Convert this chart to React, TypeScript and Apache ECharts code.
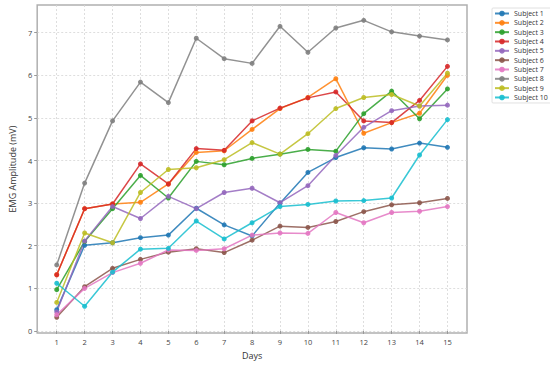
import React, { useEffect, useRef } from "react";
import * as echarts from "echarts";

const days = [1, 2, 3, 4, 5, 6, 7, 8, 9, 10, 11, 12, 13, 14, 15];
const yTicks = [0, 1, 2, 3, 4, 5, 6, 7];
const subjectNames = [
  "Subject 1", "Subject 2", "Subject 3", "Subject 4", "Subject 5",
  "Subject 6", "Subject 7", "Subject 8", "Subject 9", "Subject 10",
];
const colors = [
  "#1f77b4", "#ff7f0e", "#2ca02c", "#d62728", "#9467bd",
  "#8c564b", "#e377c2", "#7f7f7f", "#bcbd22", "#17becf",
];

const s1 = [0.5, 2.01, 2.07, 2.19, 2.25, 2.88, 2.49, 2.23, 3.0, 3.72, 4.07, 4.3, 4.27, 4.41, 4.31];
const s2 = [1.32, 2.87, 2.98, 3.02, 3.45, 4.19, 4.23, 4.73, 5.22, 5.48, 5.92, 4.64, 4.89, 5.11, 6.0];
const s3 = [0.97, 2.1, 2.87, 3.65, 3.12, 3.98, 3.9, 4.05, 4.15, 4.26, 4.22, 5.1, 5.63, 4.98, 5.68];
const s4 = [1.32, 2.87, 2.98, 3.92, 3.45, 4.28, 4.24, 4.93, 5.23, 5.47, 5.61, 4.93, 4.89, 5.41, 6.21];
const s5 = [0.45, 2.11, 2.92, 2.64, 3.16, 2.87, 3.25, 3.35, 3.01, 3.41, 4.12, 4.78, 5.17, 5.28, 5.3];
const s6 = [0.32, 1.04, 1.47, 1.68, 1.85, 1.93, 1.84, 2.13, 2.46, 2.43, 2.57, 2.8, 2.96, 3.01, 3.11];
const s7 = [0.38, 1.0, 1.37, 1.59, 1.9, 1.89, 1.93, 2.25, 2.3, 2.29, 2.78, 2.54, 2.78, 2.81, 2.92];
const s8 = [1.55, 3.47, 4.93, 5.84, 5.36, 6.87, 6.39, 6.28, 7.15, 6.54, 7.11, 7.29, 7.02, 6.92, 6.83];
const s9 = [0.67, 2.3, 2.07, 3.25, 3.79, 3.83, 4.02, 4.42, 4.15, 4.63, 5.22, 5.48, 5.55, 5.28, 6.05];
const s10 = [1.12, 0.58, 1.38, 1.92, 1.94, 2.58, 2.16, 2.54, 2.92, 2.97, 3.05, 3.06, 3.12, 4.13, 4.96];

const allSeries = [s1, s2, s3, s4, s5, s6, s7, s8, s9, s10];

const FONT = "'Open Sans', 'Noto Sans', sans-serif";

export default function App() {
  const ref = useRef<HTMLDivElement>(null);
  useEffect(() => {
    if (!ref.current) return;
    const chart = echarts.init(ref.current, undefined, { renderer: "svg" });
    const series = allSeries.map((vals, i) => ({
      name: subjectNames[i],
      type: "line",
      data: vals.map((v, j) => [days[j], v]),
      symbol: "circle",
      symbolSize: 5,
      color: colors[i],
      lineStyle: { width: 1.5, opacity: 0.85 },
      itemStyle: { opacity: 0.9 },
      emphasis: { disabled: true },
    }));
    chart.setOption({
      animation: false,
      color: colors,
      grid: {
        left: 23,
        right: 83,
        top: 5,
        bottom: 26,
        show: true,
        borderColor: "#b0b0b0",
        borderWidth: 1.5,
        backgroundColor: "#ffffff",
      },
      legend: {
        data: subjectNames,
        orient: "vertical",
        left: 492,
        top: 8,
        itemWidth: 14,
        itemHeight: 7,
        itemGap: 2.33,
        padding: [2, 3, 2, 2],
        borderColor: "#d8d8d8",
        borderWidth: 0.8,
        borderRadius: 1,
        textStyle: { fontSize: 7, lineHeight: 7, color: "#333", fontFamily: FONT },
      },
      xAxis: {
        type: "value",
        min: 0.3,
        max: 15.7,
        name: "Days",
        nameLocation: "middle",
        nameGap: 15,
        nameTextStyle: { fontSize: 9, color: "#333", fontFamily: FONT },
        axisLine: { show: false },
        axisTick: { show: true, length: 3, customValues: days, lineStyle: { color: "#999" } },
        axisLabel: { customValues: days, fontSize: 7.5, color: "#444", margin: 5, fontFamily: FONT },
        splitLine: { show: true, lineStyle: { color: "#d6d6d6", width: 0.8, type: [2, 2] } },
      },
      yAxis: {
        type: "value",
        min: -0.05,
        max: 7.65,
        name: "EMG Amplitude (mV)",
        nameLocation: "middle",
        nameGap: 14,
        nameTextStyle: { fontSize: 9, color: "#333", fontFamily: FONT },
        axisLine: { show: false },
        axisTick: { show: true, length: 3, customValues: yTicks, lineStyle: { color: "#999" } },
        axisLabel: { customValues: yTicks, fontSize: 7.5, color: "#444", margin: 5, fontFamily: FONT },
        splitLine: { show: true, lineStyle: { color: "#d6d6d6", width: 0.8, type: [2, 2] } },
      },
      series,
    });
    return () => chart.dispose();
  }, []);
  return <div ref={ref} style={{ width: 550, height: 365, position: "absolute", left: 0, top: 0 }} />;
}
